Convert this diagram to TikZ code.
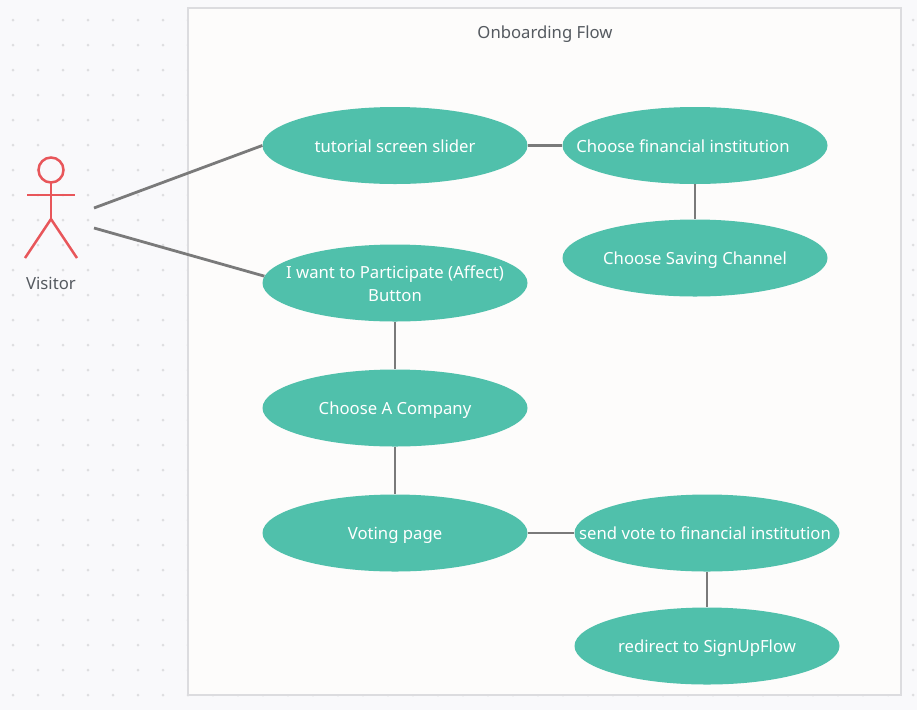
\documentclass[tikz,border=0pt]{standalone}
\usepackage{fontspec}
\setmainfont{Noto Sans}
\usetikzlibrary{shapes.geometric}
\definecolor{pagebg}{HTML}{F9F9FB}
\definecolor{boxbg}{HTML}{FDFCFB}
\definecolor{boxline}{HTML}{DCDCDF}
\definecolor{griddot}{HTML}{DEDEE0}
\definecolor{usefill}{HTML}{50C0AB}
\definecolor{linkgray}{HTML}{7A7A7A}
\definecolor{actorred}{HTML}{E8565A}
\definecolor{labelgray}{HTML}{555A60}
\tikzset{
  usecase/.style={ellipse,fill=usefill,text=white,minimum width=265pt,minimum height=77pt,inner xsep=-50pt,inner ysep=-8pt,text height=17pt,text depth=4pt,align=center,font=\fontsize{16.7}{23}\selectfont},
  link/.style={draw=linkgray,line width=2.8pt},
  actorline/.style={draw=actorred,line width=2.5pt},
  plainlabel/.style={text=labelgray,font=\fontsize{16.7}{20}\selectfont}
}
\begin{document}
\begin{tikzpicture}[x=1pt,y=-1pt]
    \useasboundingbox (0,0) rectangle (917,710);
    \fill[pagebg] (0,0) rectangle (917,710);
    % dotted page grid
    \foreach \x in {13,38,...,913}
        \foreach \y in {20,45,...,695}
            \fill[griddot] (\x,\y) circle (1.5pt);
    \draw[draw=boxline,fill=boxbg,line width=2.5pt] (188,8) rectangle (901,695);
    \node[plainlabel] (flowtitle) at (545,34.5) {Onboarding Flow};
    % visitor
    \draw[actorline] (51,170) circle (12.5pt);
    \draw[actorline] (51,182.5) -- (51,219);
    \draw[actorline] (27,195) -- (75,195);
    \draw[actorline] (25,258) -- (51,219) -- (77,258);
    \node[plainlabel] (visitor) at (51,283) {Visitor};
    \coordinate (visitorup) at (94,208);
    \coordinate (visitordown) at (94,228);
    % use cases
    \node[usecase] (slider) at (395,145.5) {tutorial screen slider};
    \node[usecase] (institution) at (695,145.5) {Choose financial institution\hspace*{24pt}};
    \node[usecase] (channel) at (695,258) {Choose Saving Channel};
    \node[usecase,text height=40pt] (participate) at (395,283) {I want to Participate (Affect)\\Button};
    \node[usecase] (company) at (395,408) {Choose A Company};
    \node[usecase] (voting) at (395,533) {Voting page};
    \node[usecase] (sendvote) at (707,533) {send vote to financial institution\hspace*{4pt}};
    \node[usecase] (redirect) at (707,646) {redirect to SignUpFlow};
    % links
    \draw[link] (visitorup) -- (slider.west);
    \draw[link] (visitordown) -- (participate.177);
    \draw[link] (slider) -- (institution);
    \draw[link] (institution) -- (channel);
    \draw[link] (participate) -- (company);
    \draw[link] (company) -- (voting);
    \draw[link] (voting) -- (sendvote);
    \draw[link] (sendvote) -- (redirect);
\end{tikzpicture}
\end{document}
